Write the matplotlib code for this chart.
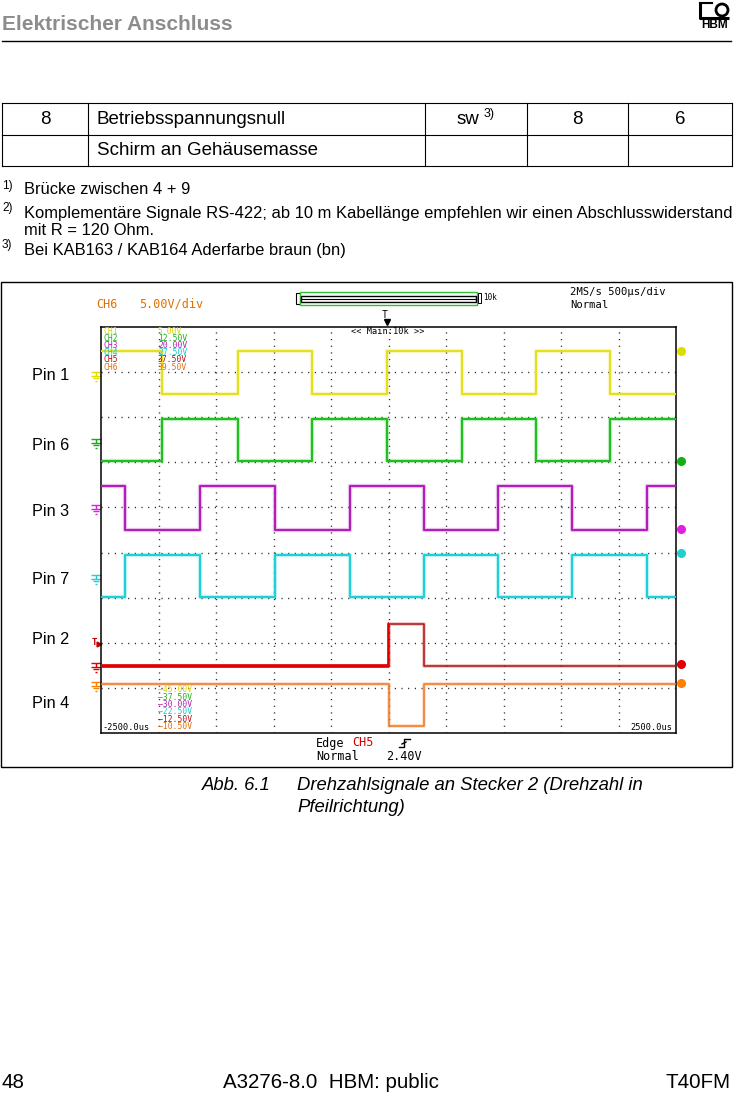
import matplotlib
matplotlib.use('Agg')
import matplotlib.pyplot as plt
import matplotlib.transforms as mtrans
from matplotlib.path import Path
from matplotlib.patches import Rectangle, Circle

plt.rcParams['font.family'] = ['Liberation Sans', 'DejaVu Sans']

# Oszilloskop-Daten: Zeit in µs, Pegel in Bildschirm-Teilungen (0 = unten, 9 = oben)
edges_a = [-2500, -1967, -1313, -665, -17, 635, 1280, 1924, 2500]
pin1 = [8.47, 7.52, 8.47, 7.52, 8.47, 7.52, 8.47, 7.52, 7.52]
pin6 = [6.02, 6.97, 6.02, 6.97, 6.02, 6.97, 6.02, 6.97, 6.97]
edges_b = [-2500, -2289, -1637, -987, -337, 311, 955, 1598, 2248, 2500]
pin3 = [5.47, 4.51, 5.47, 4.51, 5.47, 4.51, 5.47, 4.51, 5.47, 5.47]
pin7 = [3.02, 3.95, 3.02, 3.95, 3.02, 3.95, 3.02, 3.95, 3.02, 3.02]
edges_idx = [-2500, 0, 311, 2500]
pin2 = [1.49, 2.42, 1.49, 1.49]
pin4 = [1.09, 0.16, 1.09, 1.09]

pin_names = ['Pin 1', 'Pin 6', 'Pin 3', 'Pin 7', 'Pin 2', 'Pin 4']
gnd_levels = [7.90, 6.40, 4.94, 3.40, 1.44, 1.03]
end_levels = [8.47, 6.02, 4.52, 3.99, 1.53, 1.10]
ch_names = ['CH1', 'CH2', 'CH3', 'CH4', 'CH5', 'CH6']
ch_top = ['5.00V', '12.50V', '20.00V', '27.50V', '37.50V', '39.50V']
ch_bottom = ['45.00V', '37.50V', '30.00V', '22.50V', '12.50V', '10.50V']
ch_colors = ['#d8d400', '#20b020', '#b020b0', '#20c8c8', '#b01010', '#e07010']
trace_colors = ['#e4e020', '#20c020', '#b020b8', '#20d0d8', '#e00000', '#f07820']
marker_colors = ['#e0dc00', '#10b010', '#e020e0', '#20d0d0', '#e00000', '#ff8000']

# Tabelle und Fussnoten
table_row1 = ['8', 'Betriebsspannungsnull', 'sw', '8', '6']
table_row2 = ['', 'Schirm an Gehäusemasse', '', '', '']
footnotes = [('1)', 'Brücke zwischen 4 + 9'),
             ('2)', 'Komplementäre Signale RS-422; ab 10 m Kabellänge empfehlen wir einen Abschlusswiderstand\nmit R = 120 Ohm.'),
             ('3)', 'Bei KAB163 / KAB164 Aderfarbe braun (bn)')]

fig = plt.figure(figsize=(7.34, 10.94), dpi=100)

# Seitenebene in Pixelkoordinaten
page = fig.add_axes([0, 0, 1, 1])
page.set_xlim(0, 734)
page.set_ylim(1094, 0)
page.axis('off')
page.set_zorder(0)

# Kopfzeile
page.text(2, 24, 'Elektrischer Anschluss', fontsize=15, fontweight='bold',
          color='#8c8c8c', va='center', ha='left')
page.plot([2, 731], [41, 41], color='black', lw=1.0)
# HBM-Logo
page.plot([700, 700, 729], [3, 18, 18], color='black', lw=2.2, solid_capstyle='butt')
page.plot([700, 712], [3, 3], color='black', lw=1.5)
page.add_patch(Circle((722, 10), 6, fill=False, ec='black', lw=2.0))
page.text(715, 25, 'HBM', fontsize=8.5, fontweight='bold', ha='center', va='center')

# Tabelle
cols = [2, 88, 425, 527, 628, 732]
rows = [103, 135, 166]
for y in rows:
    page.plot([cols[0], cols[-1]], [y, y], color='black', lw=0.8)
for x in cols:
    page.plot([x, x], [rows[0], rows[-1]], color='black', lw=0.8)
for r, row in enumerate([table_row1, table_row2]):
    yc = (rows[r] + rows[r + 1]) / 2
    for c, txt in enumerate(row):
        if not txt:
            continue
        if c == 1:
            page.text(97, yc, txt, fontsize=13.5, va='center', ha='left')
        elif c == 2:
            page.text(479, yc, txt, fontsize=13.5, va='center', ha='right')
        else:
            page.text((cols[c] + cols[c + 1]) / 2, yc, txt, fontsize=13.5,
                      va='center', ha='center')
page.text(484, 114, '3)', fontsize=9, va='center', ha='left')

# Fussnoten
page.text(2, 186, footnotes[0][0], fontsize=8.5, va='center')
page.text(24, 190, footnotes[0][1], fontsize=11.9, va='center')
page.text(2, 208, footnotes[1][0], fontsize=8.5, va='center')
page.text(24, 206, footnotes[1][1], fontsize=11.9, va='top', linespacing=1.2)
page.text(2, 245, footnotes[2][0], fontsize=8.5, va='center')
page.text(24, 250, footnotes[2][1], fontsize=11.9, va='center')

# Rahmen des Oszillogramms
page.add_patch(Rectangle((1, 282), 731, 485, fill=False, ec='black', lw=1.0))

# Oszilloskop-Raster
x0, x1, y0, y1 = 101, 676, 327, 733
ax = fig.add_axes([x0 / 734, 1 - y1 / 1094, (x1 - x0) / 734, (y1 - y0) / 1094])
ax.set_zorder(1)
ax.set_xlim(-2500, 2500)
ax.set_ylim(0, 9)
ax.set_xticks(range(-2000, 2001, 500))
ax.set_yticks(range(1, 9))
ax.tick_params(length=0, labelbottom=False, labelleft=False)
ax.grid(True, color='#202020', lw=1.0, linestyle=(0, (0.8, 4.0)))
for sp in ax.spines.values():
    sp.set_linewidth(1.1)

# Signale
series = [(edges_a, pin1), (edges_a, pin6), (edges_b, pin3), (edges_b, pin7),
          (edges_idx, pin2), (edges_idx, pin4)]
widths = [1.5, 1.5, 1.5, 1.5, 1.1, 1.1]
for (t, v), col, lw in zip(series, trace_colors, widths):
    ax.step(t, v, where='post', color=col, lw=lw + 1.6, alpha=0.25, zorder=2)
    ax.step(t, v, where='post', color=col if col != '#e00000' else '#a01818',
            lw=lw, zorder=3)
# Pin 2 vor dem Trigger kraeftiger
pre, = ax.step(edges_idx, pin2, where='post', color='#e00000', lw=2.6, zorder=4)
pre.set_clip_path(Rectangle((-2500, 0), 2500, 9, transform=ax.transData))

# Masse-Symbole links, Marker rechts
gnd = Path([(-1, 1), (1, 1), (0, 1), (0, 0.2), (-1, 0.2), (1, 0.2),
            (-0.6, -0.3), (0.6, -0.3), (-0.25, -0.8), (0.25, -0.8)],
           [Path.MOVETO, Path.LINETO] * 5)
tr_left = mtrans.blended_transform_factory(page.transData, ax.transData)
for lvl, col in zip(gnd_levels, marker_colors):
    ax.plot([96], [lvl], marker=gnd, ms=7, mew=1.0, color=col,
            transform=tr_left, clip_on=False, linestyle='none')
for lvl, col in zip(end_levels, marker_colors):
    ax.plot([681], [lvl], marker='o', ms=5.5, color=col,
            transform=tr_left, clip_on=False, linestyle='none')
# Triggerpegel
ax.text(92, 2.0, 'T', color='#c00000', fontsize=6.5, fontweight='bold',
        family='DejaVu Sans Mono', transform=tr_left, va='center', ha='left')
ax.plot([99], [1.97], marker='>', ms=3.5, color='#c00000', transform=tr_left,
        clip_on=False)

# Pin-Beschriftungen
pin_y = [375, 445, 512, 580, 640, 703]
for name, y in zip(pin_names, pin_y):
    page.text(32, y, name, fontsize=11.7, va='center', ha='left')

# Beschriftungen des Oszilloskops
mono = 'DejaVu Sans Mono'
pt = page.transData
page.text(96, 304, 'CH6', color='#e07000', fontsize=8.5, family=mono, va='center')
page.text(139, 304, '5.00V/div', color='#e07000', fontsize=8.5, family=mono, va='center')
page.text(570, 292, '2MS/s 500µs/div', fontsize=7.6, family=mono, va='center')
page.text(570, 305, 'Normal', fontsize=7.6, family=mono, va='center')
page.add_patch(Rectangle((296, 292.5), 4, 11, fill=False, ec='black', lw=0.8))
page.add_patch(Rectangle((300, 291.5), 177, 13, fill=False, ec='#30c030', lw=1.0))
page.add_patch(Rectangle((301, 295.5), 175, 6, fill=False, ec='black', lw=1.0))
page.plot([301, 476], [298.5, 298.5], color='black', lw=0.8)
page.add_patch(Rectangle((478, 293), 3, 10, fill=False, ec='black', lw=0.7))
page.text(483, 297.5, '10k', fontsize=5.5, family=mono, va='center')
page.text(385, 315, 'T', fontsize=7, family=mono, va='center', ha='center')
page.plot([387], [322], marker='v', ms=5, color='black')
ax.text(351, 332, '<< Main:10k >>', fontsize=6.2, family=mono, va='center',
        transform=pt)
for i, (n, v, vb, col) in enumerate(zip(ch_names, ch_top, ch_bottom, ch_colors)):
    ax.text(103, 331 + 7.2 * i, n, color=col, fontsize=5.8, family=mono,
            va='center', transform=pt)
    ax.text(158, 331 + 7.2 * i, v, color=col, fontsize=5.8, family=mono,
            va='center', transform=pt)
    ax.text(158, 690 + 7.3 * i, '\u2014' + vb, color=col, fontsize=5.8, family=mono,
            va='center', transform=pt)
ax.text(103, 728, '-2500.0us', fontsize=6.2, family=mono, va='center', transform=pt)
ax.text(672, 728, '2500.0us', fontsize=6.2, family=mono, va='center', ha='right',
        transform=pt)
page.text(316, 743, 'Edge', fontsize=8.5, family=mono, va='center')
page.text(352, 743, 'CH5', color='#d00000', fontsize=8.5, family=mono, va='center')
page.plot([399, 404, 404, 410], [747, 747, 739, 739], color='black', lw=1.0)
page.plot([402, 406], [744, 742], color='black', lw=1.0)
page.text(316, 757, 'Normal', fontsize=8.5, family=mono, va='center')
page.text(386, 757, '2.40V', fontsize=8.5, family=mono, va='center')

# Bildunterschrift
page.text(202, 786, 'Abb. 6.1', fontsize=13.3, style='italic', va='center')
page.text(297, 786, 'Drehzahlsignale an Stecker 2 (Drehzahl in', fontsize=13.3,
          style='italic', va='center')
page.text(297, 807, 'Pfeilrichtung)', fontsize=13.3, style='italic', va='center')

# Fusszeile
page.text(2, 1083, '48', fontsize=14.8, va='center')
page.text(331, 1083, 'A3276-8.0  HBM: public', fontsize=14.8, va='center', ha='center')
page.text(731, 1083, 'T40FM', fontsize=14.8, va='center', ha='right')

fig.savefig('out.png', dpi=100)
